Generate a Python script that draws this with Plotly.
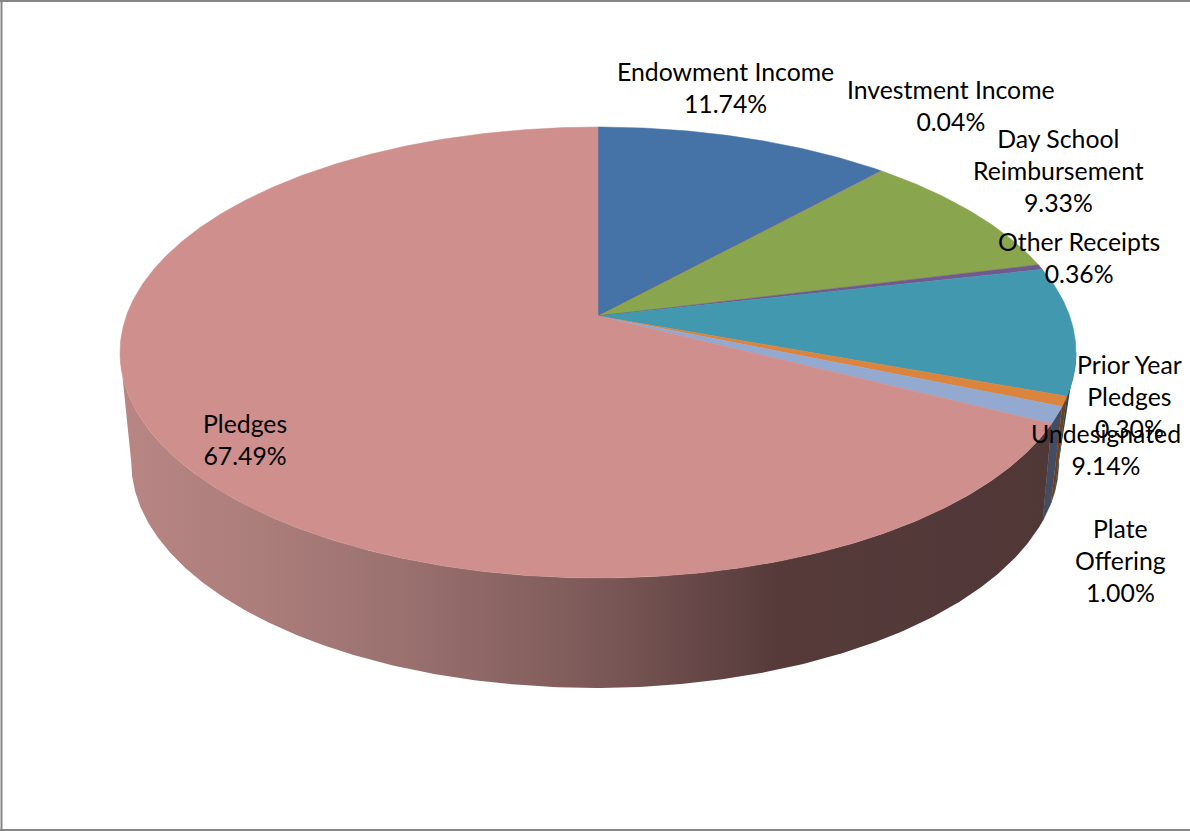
import numpy as np
import plotly.graph_objects as go

# ---- data (clockwise from 12 o'clock)
categories = ["Endowment Income", "Investment Income", "Day School<br>Reimbursement",
              "Other Receipts", "Undesignated", "Prior Year<br>Pledges",
              "Plate<br>Offering", "Pledges"]
values = [11.74, 0.04, 9.33, 0.36, 9.14, 0.30, 1.00, 67.49]
# slice sizes as measured on the drawn pie (the printed labels add up to 99.4,
# the two small slices are drawn a little larger than they are labelled)
drawn_shares = [11.74, 0.04, 9.33, 0.36, 9.14, 0.70, 1.20, 67.49]
colors = ["#4572A7", "#AA4643", "#89A54E", "#71588F", "#4198AF", "#DB843D", "#93A9CF", "#CF8F8D"]
wall_colors = [None, None, None, None, "#1E4A58", "#6E3F1C", "#434C60", None]
label_centers = [(725, 87), (951, 105), (1058, 170), (1079, 257), (1106, 449),
                 (1129, 396), (1120, 560), (245, 439)]
label_order = [0, 1, 2, 3, 5, 4, 6, 7]

# ---- pie projection: a circle seen in perspective, in picture pixels
W, H = 1190, 831
TOP = dict(cx=598, a=219.6, b=471.7, y0=316, k=0.1619)
BOT = dict(cx=595, a=215.0, b=452.4, y0=412.3, k=0.22)
FONT = "Lato"


def rim(angles, cx, a, b, y0, k):
    u, v = np.sin(angles), -np.cos(angles)
    d = 1 - k * v
    return cx + b * u / d, y0 + a * v / d


def turn(side, k):
    """Angle where a rim turns, so the wall's outline leaves it."""
    return np.pi - side * np.arccos(k)


def wall(t0, t1, t0_bottom, t1_bottom, n=300):
    x1, y1 = rim(np.linspace(t0, t1, n), **TOP)
    x2, y2 = rim(np.linspace(t1_bottom, t0_bottom, n), **BOT)
    return np.r_[x1, x2], np.r_[y1, y2]


edges = np.cumsum([0] + drawn_shares) / sum(drawn_shares) * 2 * np.pi

fig = go.Figure()

# side walls, drawn before the top face
pledge = len(values) - 1
for i, wc in enumerate(wall_colors):
    if wc is None:
        continue
    x, y = wall(max(edges[i], turn(1, TOP["k"])), edges[i + 1],
                max(edges[i], turn(1, BOT["k"])), edges[i + 1], n=60)
    fig.add_trace(go.Scatter(x=x, y=y, mode="lines", fill="toself",
                             fillcolor=wc, line=dict(color=wc, width=0.5), hoverinfo="skip"))

x, y = wall(edges[pledge], turn(-1, TOP["k"]), edges[pledge], turn(-1, BOT["k"]))
fig.add_trace(go.Scatter(
    x=x, y=y, mode="lines", fill="toself",
    line=dict(width=0),
    fillgradient=dict(type="horizontal", start=119, stop=1060,
                      colorscale=[[0, "#B88685"], [0.15, "#AB7D7B"], [0.3, "#9A716F"],
                                  [0.5, "#7D5A59"], [0.7, "#563A3A"], [1, "#503837"]]),
    hoverinfo="skip"))

# top face
for i, c in enumerate(colors):
    t = np.linspace(edges[i], edges[i + 1], max(3, int(drawn_shares[i] * 8)))
    x, y = rim(t, **TOP)
    fig.add_trace(go.Scatter(x=np.r_[TOP["cx"], x, TOP["cx"]], y=np.r_[TOP["y0"], y, TOP["y0"]],
                             mode="lines", fill="toself", fillcolor=c,
                             line=dict(color=c, width=0.5), hoverinfo="skip"))

for i in label_order:
    lx, ly = label_centers[i]
    fig.add_annotation(x=lx, y=ly, xref="x", yref="y", showarrow=False, xanchor="center",
                       yanchor="middle", align="center",
                       text=f"{categories[i]}<br>{values[i]:.2f}%",
                       font=dict(family=FONT, size=24.8, color="#000000"))

# chart frame
frame = dict(color="#868686", width=2)
fig.add_shape(type="line", x0=1.5, x1=1.5, y0=0, y1=H, line=frame)
fig.add_shape(type="line", x0=0, x1=W, y0=1, y1=1, line=frame)
fig.add_shape(type="line", x0=0, x1=W, y0=830, y1=830, line=frame)

fig.update_layout(width=W, height=H, margin=dict(l=0, r=0, t=0, b=0), showlegend=False,
                  paper_bgcolor="white", plot_bgcolor="white",
                  xaxis=dict(range=[0, W], visible=False, fixedrange=True),
                  yaxis=dict(range=[H, 0], visible=False, fixedrange=True))
fig.write_html("out.html", config=dict(displayModeBar=False),
               post_script="document.body.style.margin='0';")
